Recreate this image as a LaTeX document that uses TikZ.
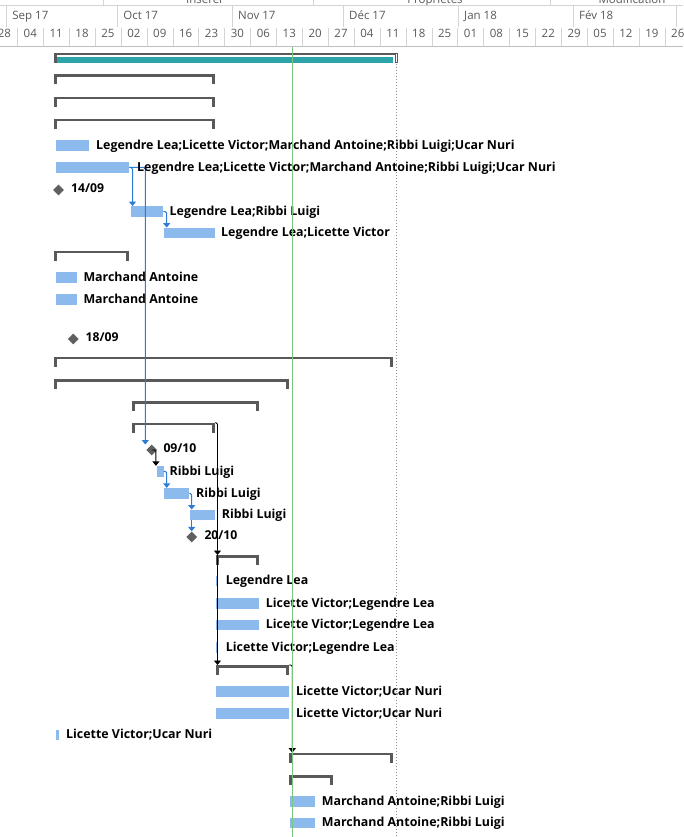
\documentclass[tikz,border=0pt]{standalone}
\usepackage{fontspec}
\setmainfont{Open Sans}
\usetikzlibrary{arrows.meta,shapes.geometric}
\definecolor{barblue}{HTML}{8CBAEC}
\definecolor{teal}{HTML}{2BA3A8}
\definecolor{brkgray}{HTML}{595959}
\definecolor{msgray}{HTML}{606060}
\definecolor{linkblue}{HTML}{2E7BD6}
\definecolor{nowgreen}{HTML}{7DC47D}
\definecolor{hdrtext}{HTML}{595959}
\definecolor{hdrline}{HTML}{D4D4D4}
\tikzset{
  gbar/.style={fill=barblue, draw=none, anchor=west, inner sep=0pt, minimum height=10.5pt},
  lab/.style={anchor=base west, inner sep=0pt, font=\fontsize{12.4}{14}\selectfont\bfseries},
  mslab/.style={anchor=base west, inner sep=0pt, font=\fontsize{12.2}{14}\selectfont\bfseries},
  ms/.style={diamond, fill=msgray, draw=none, inner sep=0pt, minimum width=11pt, minimum height=11pt},
  brk/.style={draw=brkgray, line width=2.6pt, line join=miter},
  blink/.style={draw=linkblue, line width=1pt, rounded corners=1.5pt, -{Triangle[width=7pt,length=4.5pt]}},
  klink/.style={draw=black, line width=0.9pt, rounded corners=1.5pt, -{Triangle[width=7pt,length=4.5pt]}},
  hdr/.style={text=hdrtext, inner sep=0pt, font=\fontsize{11.5}{13}\selectfont},
}
\newcommand\gbar[4]{\node[gbar, minimum width={#3-#2}] (#1) at (#2,#4) {};}
\newcommand\sbrk[4]{%
  \coordinate (#1L) at (#2,#4); \coordinate (#1R) at (#3,#4);
  \draw[brk] (#2+1.3,#4+10) -- (#2+1.3,#4+1.2) -- (#3-1.3,#4+1.2) -- (#3-1.3,#4+10);}
\begin{document}
\begin{tikzpicture}[x=1pt,y=-1pt]
\useasboundingbox (0,0) rectangle (683,837);
\clip (0,0) rectangle (683,837);
% ---------- header ----------
\node[hdr, anchor=base] (g1) at (205,3.5) {Insérer};
\node[hdr, anchor=base] (g2) at (435,3.5) {Propriétés};
\node[hdr, anchor=base] (g3) at (632,3.5) {Modification};
\draw[hdrline] (0,5) -- (683,5);
\foreach \x in {103,313,550} \draw[hdrline] (\x,0) -- (\x,5);
\foreach \x/\t in {6.2/Sep 17,117.2/Oct 17,232/Nov 17,343/Déc 17,458/Jan 18,573/Fév 18,676.6/} {
  \draw[hdrline] (\x,5) -- (\x,27);
  \node[hdr, anchor=base west] at (\x+6,19.3) {\t};
}
\foreach \w [count=\k from -1] in {28,04,11,18,25,02,09,16,23,30,06,13,20,27,04,11,18,25,01,08,15,22,29,05,12,19,26} {
  \pgfmathsetmacro\tx{17.3+25.9*\k}
  \draw[hdrline] (\tx,28) -- (\tx,46);
  \node[hdr, anchor=base] at (\tx+12.95,37.7) {\w};
}
\draw[draw=black!25] (0,46.7) -- (683,46.7);
% ---------- project summary ----------
\coordinate (s1L) at (54,52.7); \coordinate (s1R) at (395,52.7);
\fill[teal] (56,56.7) rectangle (393,62.7);
\draw[brk] (55.3,62.7) -- (55.3,53.9) -- (395,53.9);
\draw[draw=brkgray, line width=0.6pt] (395.3,52.9) rectangle (397.6,62.5);
% ---------- rows ----------
\sbrk{s2}{54}{215}{74.3}
\sbrk{s3}{54}{215}{96.7}
\sbrk{s4}{54}{215}{118.7}
\sbrk{s10}{54}{129}{250.7}
\sbrk{s14}{54}{393}{356.7}
\sbrk{s15}{54}{289}{379}
\sbrk{s16}{132}{259}{401}
\sbrk{s17}{132}{215}{422.7}
\sbrk{s23}{216}{259}{555}
\sbrk{s28}{216}{289}{665}
\sbrk{s32}{289}{393}{752.7}
\sbrk{s33}{289}{333}{775}
% bars
\gbar{b5}{56}{89}{145.3}
\gbar{b6}{56}{129}{167.5}
\gbar{b8}{131}{163}{211.5}
\gbar{b9}{164}{215}{233}
\gbar{b11}{56}{77}{277.5}
\gbar{b12}{56}{77}{299.5}
\gbar{b19}{156.7}{163.3}{471.3}
\gbar{b20}{164}{189}{493.3}
\gbar{b21}{190}{215}{515}
\gbar{b24}{216}{218}{581}
\gbar{b25}{216}{259}{603.3}
\gbar{b26}{216}{259}{625}
\gbar{b27}{216}{218}{647.7}
\gbar{b29}{216}{289}{691.3}
\gbar{b30}{216}{289}{713.3}
\gbar{b31}{56}{59}{735}
\gbar{b34}{290}{315}{801.3}
\gbar{b35}{290}{315}{823}
% links (drawn before milestones)
\coordinate (t18) at (145.3,444.5);
\draw[blink] (b6.east) -| ([xshift=1.5pt]b8.north west);
\draw[blink] (b6.east) -| (t18);
\draw[blink] (b8.east) -| ([xshift=2.7pt]b9.north west);
\draw[blink] (b19.east) -| ([xshift=2.7pt]b20.north west);
\draw[blink] (b20.east) -| ([xshift=1.7pt]b21.north west);
\draw[klink] (s17R) -| ([xshift=1.5pt]s23L);
\draw[klink] ([xshift=1.5pt]s23L) -- ([xshift=1.5pt]s28L);
\draw[klink] (s28R) -| ([xshift=3.3pt]s32L);
% milestones
\node[ms] (m7) at (58.5,190) {};
\node[ms] (m13) at (73.3,339) {};
\node[ms] (m18) at (151.7,450) {};
\node[ms] (m22) at (191.7,537) {};
\draw[klink] (m18.center) -| ([xshift=-0.8pt]b19.north west);
\draw[blink] ([xshift=1.7pt]b21.south west) -- (m22.north);
% labels
\node[lab] (l5) at (96,149.1) {Legendre Lea;Licette Victor;Marchand Antoine;Ribbi Luigi;Ucar Nuri};
\node[lab] (l6) at (137,171.3) {Legendre Lea;Licette Victor;Marchand Antoine;Ribbi Luigi;Ucar Nuri};
\node[mslab] (l7) at (71,192.5) {14/09};
\node[lab] (l8) at (169.5,215.3) {Legendre Lea;Ribbi Luigi};
\node[lab] (l9) at (221,236.8) {Legendre Lea;Licette Victor};
\node[lab] (l11) at (83.3,281.3) {Marchand Antoine};
\node[lab] (l12) at (83.3,303.3) {Marchand Antoine};
\node[mslab] (l13) at (85.5,341.7) {18/09};
\node[mslab] (l18) at (163.3,452.2) {09/10};
\node[lab] (l19) at (169.5,475.1) {Ribbi Luigi};
\node[lab] (l20) at (196,497.1) {Ribbi Luigi};
\node[lab] (l21) at (221.7,518.8) {Ribbi Luigi};
\node[mslab] (l22) at (204.3,539.5) {20/10};
\node[lab] (l24) at (225.7,584.8) {Legendre Lea};
\node[lab] (l25) at (265.7,607.1) {Licette Victor;Legendre Lea};
\node[lab] (l26) at (265.7,628.8) {Licette Victor;Legendre Lea};
\node[lab] (l27) at (225.7,651.5) {Licette Victor;Legendre Lea};
\node[lab] (l29) at (296,695.1) {Licette Victor;Ucar Nuri};
\node[lab] (l30) at (296,717.1) {Licette Victor;Ucar Nuri};
\node[lab] (l31) at (66,738.8) {Licette Victor;Ucar Nuri};
\node[lab] (l34) at (321.7,805.1) {Marchand Antoine;Ribbi Luigi};
\node[lab] (l35) at (321.7,826.8) {Marchand Antoine;Ribbi Luigi};
% status date and finish lines
\draw[nowgreen, line width=1pt] (292.3,47.2) -- (292.3,837);
\draw[black!45, line width=0.8pt, dash pattern=on 1pt off 2pt] (396.7,64) -- (396.7,837);
\end{tikzpicture}
\end{document}
